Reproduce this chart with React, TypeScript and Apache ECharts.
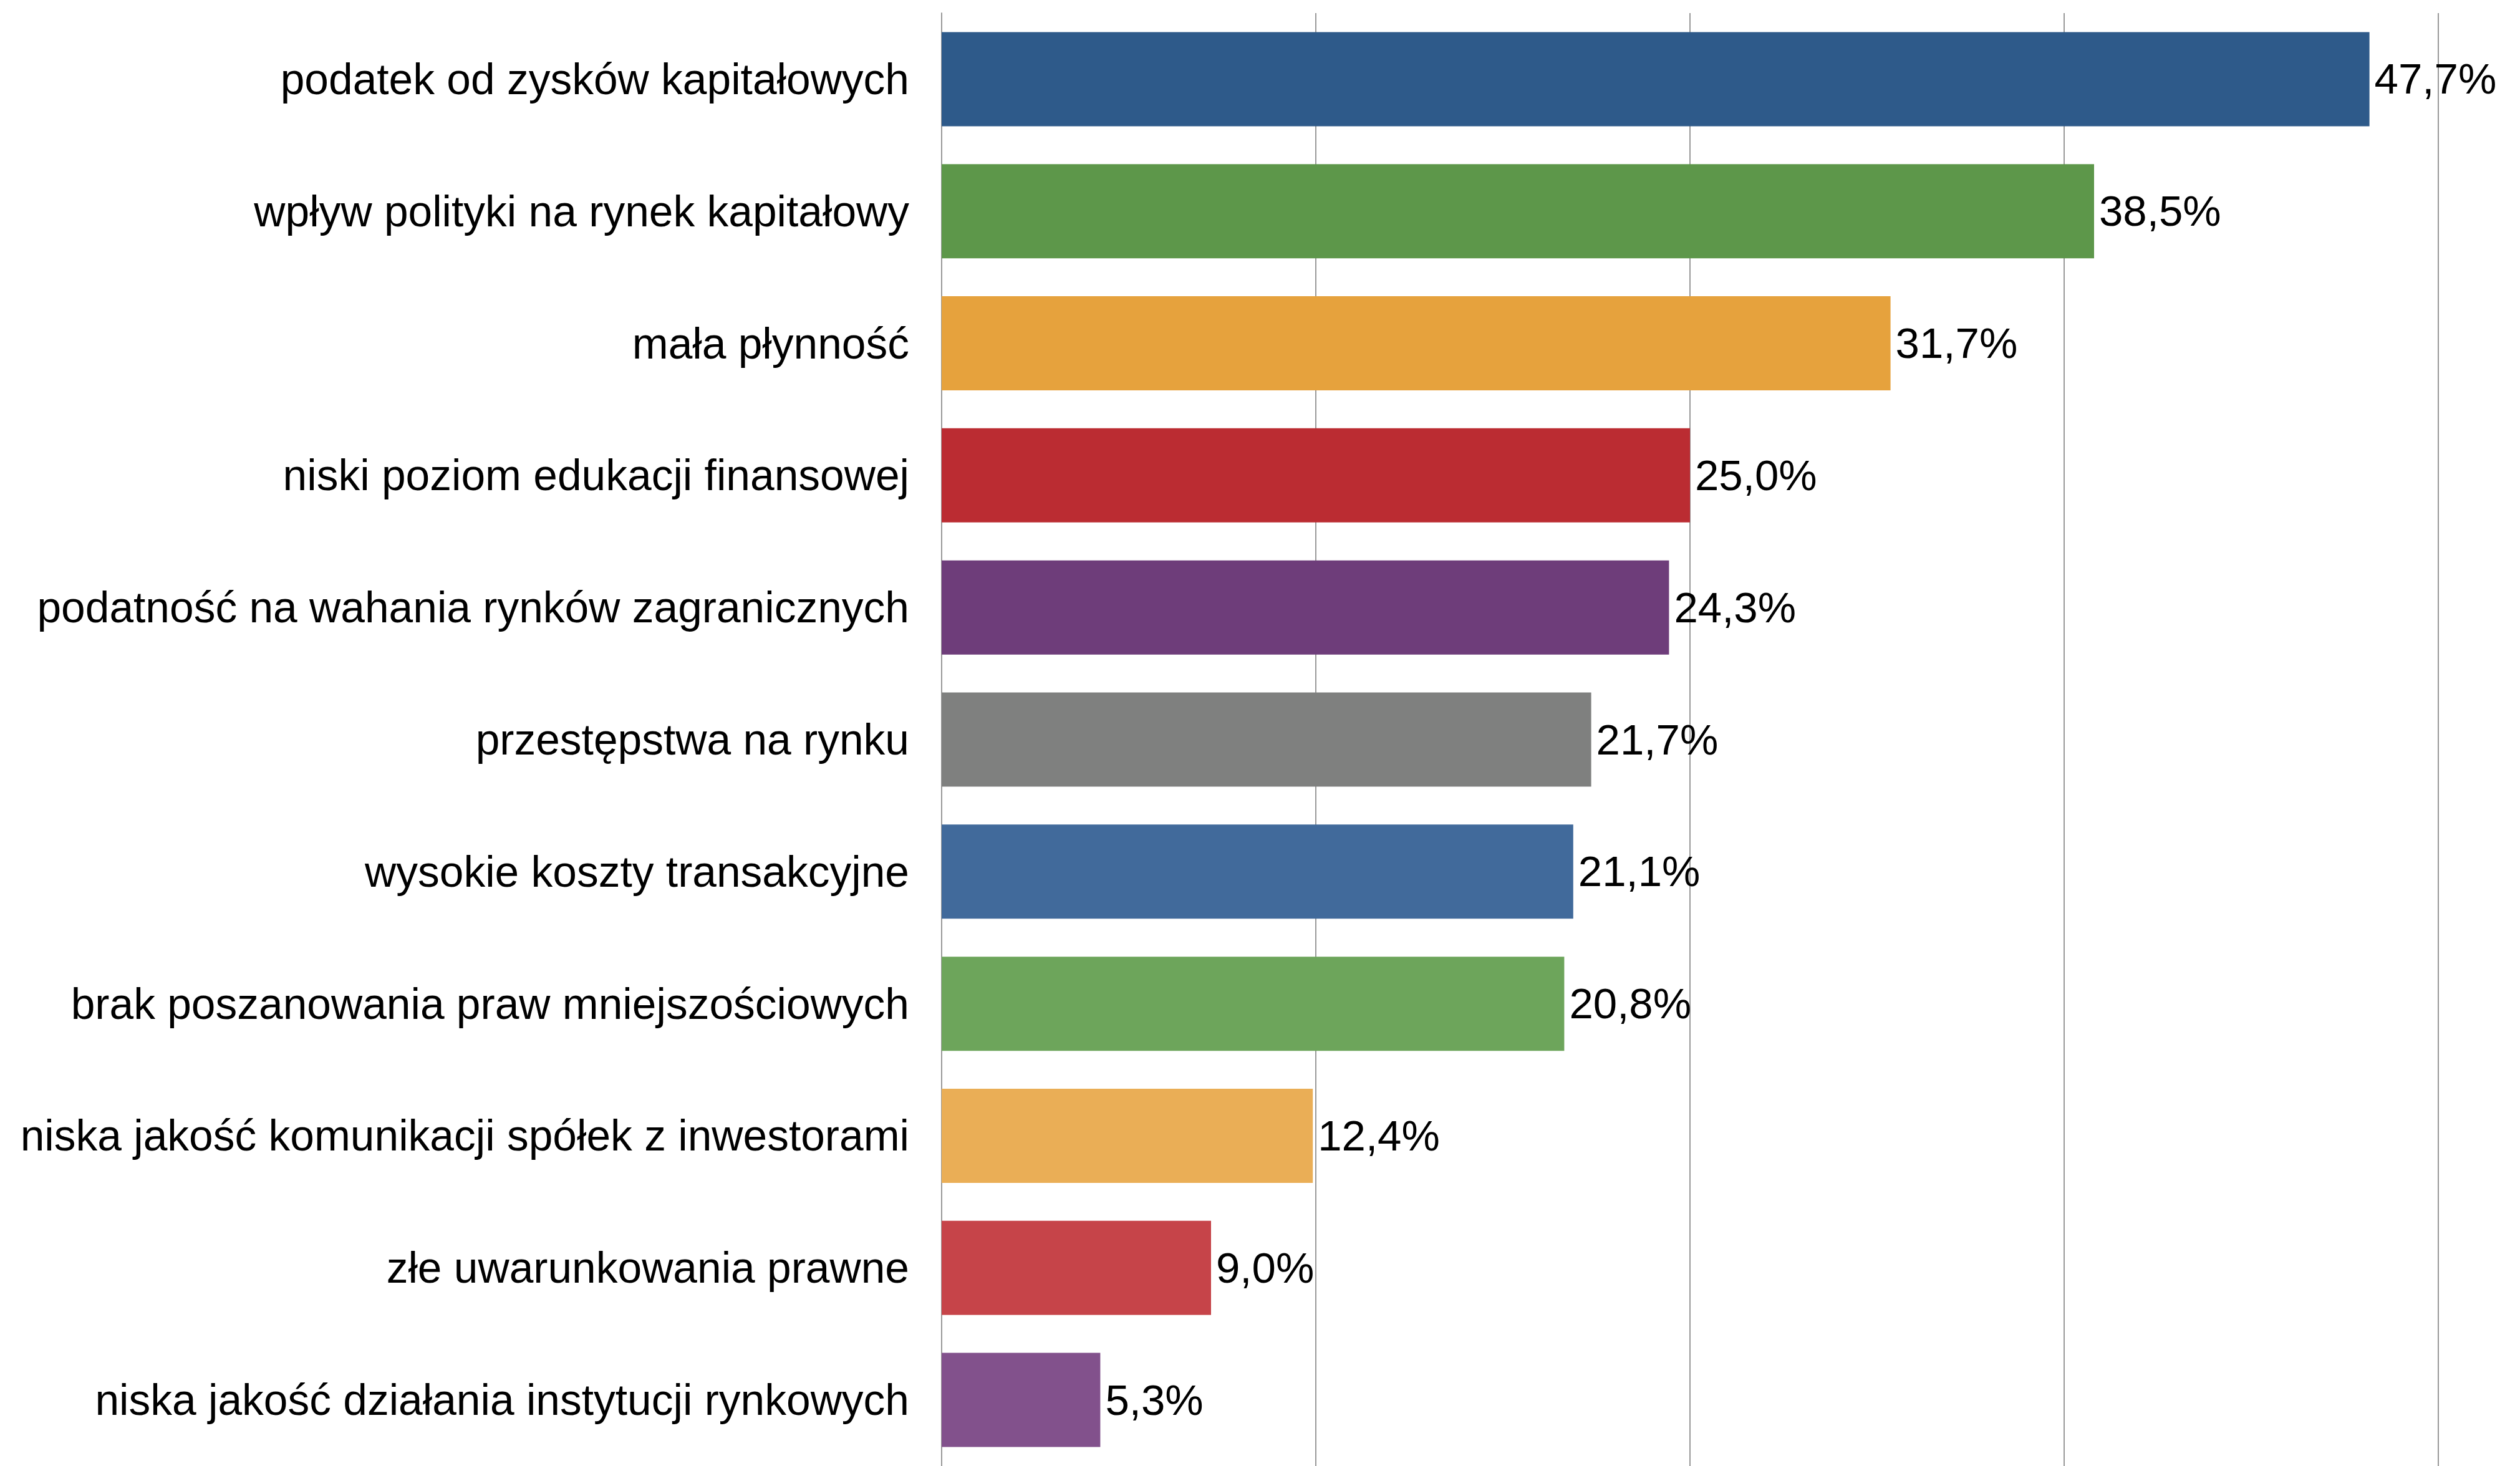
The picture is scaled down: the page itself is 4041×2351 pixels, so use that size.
import React, { useEffect, useRef } from "react";
import * as echarts from "echarts";

const categories = [
  "podatek od zysków kapitałowych",
  "wpływ polityki na rynek kapitałowy",
  "mała płynność",
  "niski poziom edukacji finansowej",
  "podatność na wahania rynków zagranicznych",
  "przestępstwa na rynku",
  "wysokie koszty transakcyjne",
  "brak poszanowania praw mniejszościowych",
  "niska jakość komunikacji spółek z inwestorami",
  "złe uwarunkowania prawne",
  "niska jakość działania instytucji rynkowych",
];

const values = [47.7, 38.5, 31.7, 25.0, 24.3, 21.7, 21.1, 20.8, 12.4, 9.0, 5.3];

const barColors = [
  "#2E5A8A",
  "#5D974A",
  "#E6A23D",
  "#BB2C32",
  "#6E3D7A",
  "#7F807F",
  "#416A9B",
  "#6DA55B",
  "#EAAE56",
  "#C64449",
  "#82518C",
];

const FONT = "'Liberation Sans', Arial, Helvetica, sans-serif";

export default function App() {
  const ref = useRef<HTMLDivElement>(null);

  useEffect(() => {
    if (!ref.current) return;
    const chart = echarts.init(ref.current, null, { renderer: "svg" });
    chart.setOption({
      animation: false,
      backgroundColor: "#ffffff",
      grid: { left: 1510, width: 2400, top: 21, height: 2336, containLabel: false },
      xAxis: {
        type: "value",
        min: 0,
        max: 50,
        interval: 12.5,
        axisLabel: { show: false },
        axisTick: { show: false },
        axisLine: { show: false },
        splitLine: { show: true, lineStyle: { color: "#999999", width: 2 } },
      },
      yAxis: {
        type: "category",
        inverse: true,
        data: categories,
        axisTick: { show: false },
        axisLine: { show: true, lineStyle: { color: "#999999", width: 2 } },
        axisLabel: {
          margin: 52,
          fontSize: 69.5,
          color: "#000000",
          fontFamily: FONT,
        },
      },
      series: [
        {
          type: "bar",
          barWidth: 151,
          data: values.map((v, i) => ({ value: v, itemStyle: { color: barColors[i] } })),
          label: {
            show: true,
            position: "right",
            distance: 8,
            fontSize: 69,
            color: "#000000",
            fontFamily: FONT,
            formatter: (p: any) => p.value.toFixed(1).replace(".", ",") + "%",
          },
        },
      ],
    });
    return () => chart.dispose();
  }, []);

  return (
    <div
      ref={ref}
      style={{ position: "absolute", left: 0, top: 0, width: 4041, height: 2351 }}
    />
  );
}
